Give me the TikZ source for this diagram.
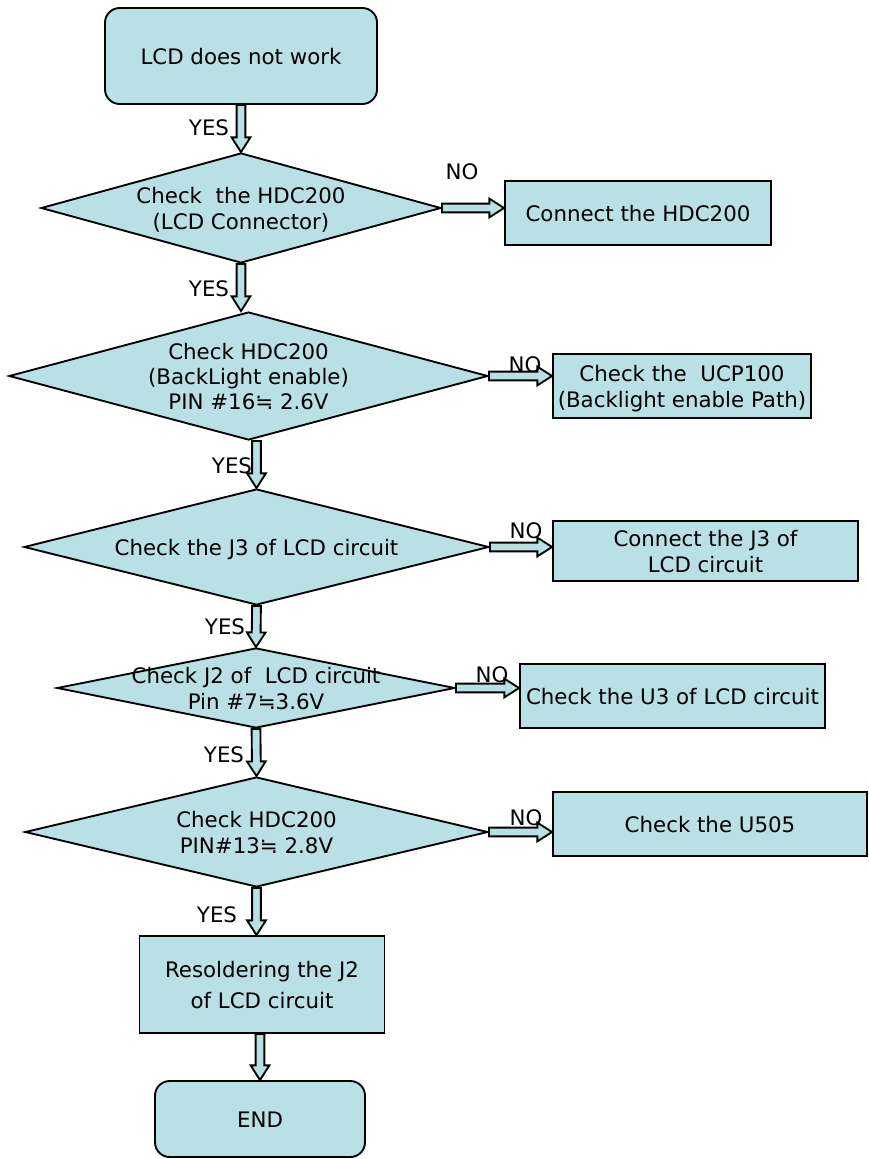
\documentclass[tikz,border=0pt]{standalone}
\usepackage{fontspec}
\setmainfont{DejaVu Sans}
\usetikzlibrary{shapes.geometric,calc}

\definecolor{boxfill}{RGB}{185,224,228}
\newcommand{\nodetext}[1]{\smash{\raisebox{-7pt}{\makebox[0pt]{\begin{tabular}{@{}c@{}}#1\end{tabular}}}}}

\tikzset{every picture/.style={line width=0.75pt}}
\tikzset{
  base/.style={draw=black, fill=boxfill, line width=1.4pt, inner sep=0pt},
  term/.style={base, rectangle, rounded corners=11pt},
  proc/.style={base, rectangle},
  test/.style={base, diamond},
  lbl/.style={inner sep=0pt},
  fat/.style={draw=black, fill=boxfill, line width=1.4pt, line join=miter,
    to path={($(\tikztostart)!3.3pt!90:(\tikztotarget)$)
      -- ($(\tikztotarget)!11pt!(\tikztostart)!3.3pt!-90:(\tikztostart)$)
      -- ($(\tikztotarget)!11pt!(\tikztostart)!7pt!-90:(\tikztostart)$)
      -- (\tikztotarget)
      -- ($(\tikztotarget)!11pt!(\tikztostart)!7pt!90:(\tikztostart)$)
      -- ($(\tikztotarget)!11pt!(\tikztostart)!3.3pt!90:(\tikztostart)$)
      -- ($(\tikztostart)!3.3pt!-90:(\tikztotarget)$) -- cycle}}
}

\begin{document}
\begin{tikzpicture}[x=0.75pt,y=0.75pt,yscale=-1,xscale=1,font=\fontsize{16}{19}\selectfont]
        \useasboundingbox (0,0) rectangle (868,1159);

        %Shape: Rounded Rect [id:start]
        \node[term, minimum width=204pt, minimum height=72pt] (start) at (241,56) {\nodetext{LCD does not work}};
        %Shape: Diamond [id:d1]
        \node[test, minimum width=300pt, minimum height=82.5pt] (d1) at (241,208) {\nodetext{Check\ \ the HDC200\\(LCD Connector)}};
        %Shape: Rectangle [id:c1]
        \node[proc, minimum width=199.5pt, minimum height=48pt] (c1) at (638,213) {\nodetext{Connect the HDC200}};
        %Shape: Diamond [id:d2]
        \node[test, minimum width=359.25pt, minimum height=96pt] (d2) at (248.5,376) {\nodetext{Check HDC200\\(BackLight enable)\\PIN \#16≒ 2.6V}};
        %Shape: Rectangle [id:c2]
        \node[proc, minimum width=193.5pt, minimum height=48pt] (c2) at (682,386) {\nodetext{Check the\ \ UCP100\\(Backlight enable Path)}};
        %Shape: Diamond [id:d3]
        \node[test, minimum width=348.75pt, minimum height=87pt] (d3) at (256.5,547) {\nodetext{Check the J3 of LCD circuit}};
        %Shape: Rectangle [id:c3]
        \node[proc, minimum width=228.75pt, minimum height=45pt] (c3) at (705.5,551) {\nodetext{Connect the J3 of\\LCD circuit}};
        %Shape: Diamond [id:d4]
        \node[test, minimum width=298.5pt, minimum height=60pt] (d4) at (256,688) {\nodetext{Check J2 of\ \ LCD circuit\\Pin \#7≒3.6V}};
        %Shape: Rectangle [id:c4]
        \node[proc, minimum width=228.75pt, minimum height=48pt] (c4) at (672.5,696) {\nodetext{Check the U3 of LCD circuit}};
        %Shape: Diamond [id:d5]
        \node[test, minimum width=347.25pt, minimum height=82.5pt] (d5) at (256.5,832) {\nodetext{Check HDC200\\PIN\#13≒ 2.8V}};
        %Shape: Rectangle [id:c5]
        \node[proc, minimum width=235.5pt, minimum height=48pt] (c5) at (710,824) {\nodetext{Check the U505}};
        %Shape: Rectangle [id:fix]
        \node[proc, minimum width=183.75pt, minimum height=72.75pt] (fix) at (262,984.5) {\nodetext{Resoldering the J2\\[4pt]of LCD circuit}};
        %Shape: Rounded Rect [id:end]
        \node[term, minimum width=157.5pt, minimum height=57pt] (end) at (260,1119) {\nodetext{END}};

        \coordinate (a2) at (d1.south |- d2.north);
        \coordinate (a3) at (d3.north |- d2.south);
        \coordinate (a6) at (d5.south |- fix.north);
        \coordinate (a7) at (end.north |- fix.south);

        %Block Arrows
        \draw[fat] (start.south) to (d1.north);
        \draw[fat] (d1.south) to (a2);
        \draw[fat] (a3) to (d3.north);
        \draw[fat] (d3.south) to (d4.north);
        \draw[fat] (d4.south) to (d5.north);
        \draw[fat] (d5.south) to (a6);
        \draw[fat] (a7) to (end.north);
        \draw[fat] (d1.east) to (d1.east -| c1.west);
        \draw[fat] (d2.east) to (d2.east -| c2.west);
        \draw[fat] (d3.east) to (d3.east -| c3.west);
        \draw[fat] (d4.east) to (d4.east -| c4.west);
        \draw[fat] (d5.east) to (d5.east -| c5.west);

        % Text Node
        \node[lbl] (y1) at (209,128) {YES};
        % Text Node
        \node[lbl] (n1) at (462,172) {NO};
        % Text Node
        \node[lbl] (y2) at (209,289) {YES};
        % Text Node
        \node[lbl] (n2) at (525,365) {NO};
        % Text Node
        \node[lbl] (y3) at (232,466) {YES};
        % Text Node
        \node[lbl] (n3) at (526,531) {NO};
        % Text Node
        \node[lbl] (y4) at (225,627) {YES};
        % Text Node
        \node[lbl] (n4) at (492,675) {NO};
        % Text Node
        \node[lbl] (y5) at (224,755) {YES};
        % Text Node
        \node[lbl] (n5) at (526,818) {NO};
        % Text Node
        \node[lbl] (y6) at (217,915) {YES};

\end{tikzpicture}
\end{document}
